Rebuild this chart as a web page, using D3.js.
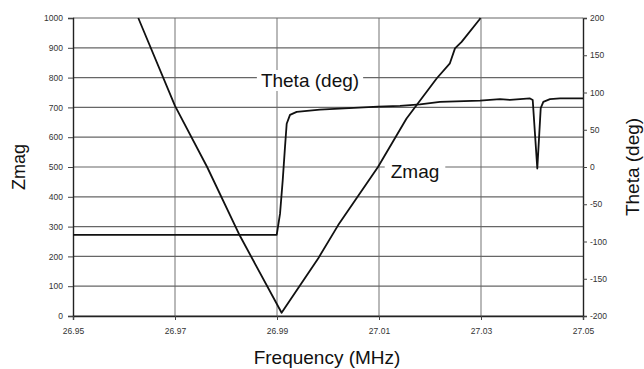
<!DOCTYPE html>
<html>
<head>
<meta charset="utf-8">
<script src="https://cdn.jsdelivr.net/npm/d3@7"></script>
<style>
  html, body { margin: 0; padding: 0; background: #fff; }
  svg { display: block; font-family: Arial, "Liberation Sans", sans-serif; }
</style>
</head>
<body>
<svg id="chart" width="644" height="369"></svg>
<script>
// ---- data ----
const freqTicks = [26.95, 26.97, 26.99, 27.01, 27.03, 27.05];
const freqTickLabels = ["26.95", "26.97", "26.99", "27.01", "27.03", "27.05"];
const zmagTicks = [0, 100, 200, 300, 400, 500, 600, 700, 800, 900, 1000];
const thetaTicks = [-200, -150, -100, -50, 0, 50, 100, 150, 200];

const zmagFreq = [26.9628, 26.9700, 26.9763, 26.9827, 26.9909, 26.9981, 27.0020, 27.0098, 27.0154, 27.0213, 27.0239, 27.0249, 27.0262, 27.0297, 27.0299];
const zmagValues = [1000, 705, 500, 270, 11, 194, 305, 500, 663, 797, 848, 898, 920, 995, 1000];

const thetaFreq = [26.9500, 26.98994, 26.99059, 26.99112, 26.99157, 26.99190, 26.99255, 26.99386, 26.99843, 27.00980, 27.01412, 27.01804, 27.02196, 27.02980, 27.03373, 27.03569, 27.03961, 27.04014, 27.04104, 27.04171, 27.04222, 27.04353, 27.04549, 27.0500];
const thetaValues = [-91, -91, -63, -18, 27, 58, 70, 74, 77, 81, 82, 84, 87.5, 89, 91, 90, 92, 90, -2, 79, 87.5, 91, 92, 92];

// ---- layout ----
const W = 644, H = 369;
const m = { left: 73, right: 61, top: 18, bottom: 53 };
const iw = W - m.left - m.right, ih = H - m.top - m.bottom;

const svg = d3.select("#chart");
const g = svg.append("g").attr("transform", `translate(${m.left},${m.top})`);

const x = d3.scaleLinear().domain([26.95, 27.05]).range([0, iw]);
const yZ = d3.scaleLinear().domain([0, 1000]).range([ih, 0]);
const yT = d3.scaleLinear().domain([-200, 200]).range([ih, 0]);

// gridlines
g.append("g").selectAll("line").data(freqTicks.slice(1, -1)).join("line")
  .attr("x1", d => x(d)).attr("x2", d => x(d))
  .attr("y1", 0).attr("y2", ih)
  .attr("stroke", "#8a8a8a").attr("stroke-width", 1.2);

g.append("g").selectAll("line").data(zmagTicks).join("line")
  .attr("x1", 0).attr("x2", iw)
  .attr("y1", d => yZ(d)).attr("y2", d => yZ(d))
  .attr("stroke", "#666").attr("stroke-width", 1.2);

// axes
const plain = d => String(d);
const axL = g.append("g").call(d3.axisLeft(yZ).tickValues(zmagTicks).tickFormat(plain).tickSize(5).tickPadding(5));
const axR = g.append("g").attr("transform", `translate(${iw},0)`)
  .call(d3.axisRight(yT).tickValues(thetaTicks).tickFormat(plain).tickSize(4).tickPadding(3));
const axB = g.append("g").attr("transform", `translate(0,${ih})`)
  .call(d3.axisBottom(x).tickValues(freqTicks).tickFormat((d, i) => freqTickLabels[i]).tickSize(4).tickPadding(8));

[axL, axR, axB].forEach(a => {
  a.select(".domain").attr("stroke", "#222").attr("stroke-width", 1.4);
  a.selectAll(".tick line").attr("stroke", "#444");
  a.selectAll("text").attr("font-size", 8.5).attr("fill", "#333")
    .attr("font-family", "Arial, 'Liberation Sans', sans-serif");
});

// series lines
svg.append("clipPath").attr("id", "plotclip")
  .append("rect").attr("x", 0).attr("y", -1).attr("width", iw).attr("height", ih + 2);

const zLine = d3.line().x((d, i) => x(zmagFreq[i])).y(d => yZ(d));
const tLine = d3.line().x((d, i) => x(thetaFreq[i])).y(d => yT(d));

g.append("path").datum(zmagValues).attr("d", zLine)
  .attr("fill", "none").attr("stroke", "#111").attr("stroke-width", 1.8)
  .attr("stroke-linejoin", "round").attr("clip-path", "url(#plotclip)");
g.append("path").datum(thetaValues).attr("d", tLine)
  .attr("fill", "none").attr("stroke", "#111").attr("stroke-width", 1.8)
  .attr("stroke-linejoin", "round").attr("clip-path", "url(#plotclip)");

// in-plot labels with white background
function boxLabel(text, cx, baseline, size, padX) {
  const t = g.append("text").attr("x", cx).attr("y", baseline)
    .attr("text-anchor", "middle").attr("font-size", size).attr("fill", "#111").text(text);
  const bb = t.node().getBBox();
  g.insert("rect", () => t.node())
    .attr("x", bb.x - padX).attr("y", bb.y).attr("width", bb.width + 2 * padX).attr("height", bb.height)
    .attr("fill", "#fff");
}
boxLabel("Theta (deg)", 310 - m.left, 87 - m.top, 19, 4);
boxLabel("Zmag", 415 - m.left, 178 - m.top, 19, 6);

// axis titles
svg.append("text").attr("transform", `translate(25,${m.top + ih / 2}) rotate(-90)`)
  .attr("text-anchor", "middle").attr("font-size", 18).attr("fill", "#111").text("Zmag");
svg.append("text").attr("transform", `translate(639,${m.top + ih / 2}) rotate(-90)`)
  .attr("text-anchor", "middle").attr("font-size", 19).attr("fill", "#111").text("Theta (deg)");
svg.append("text").attr("x", 327).attr("y", 364)
  .attr("text-anchor", "middle").attr("font-size", 19).attr("fill", "#111").text("Frequency (MHz)");
</script>
</body>
</html>
